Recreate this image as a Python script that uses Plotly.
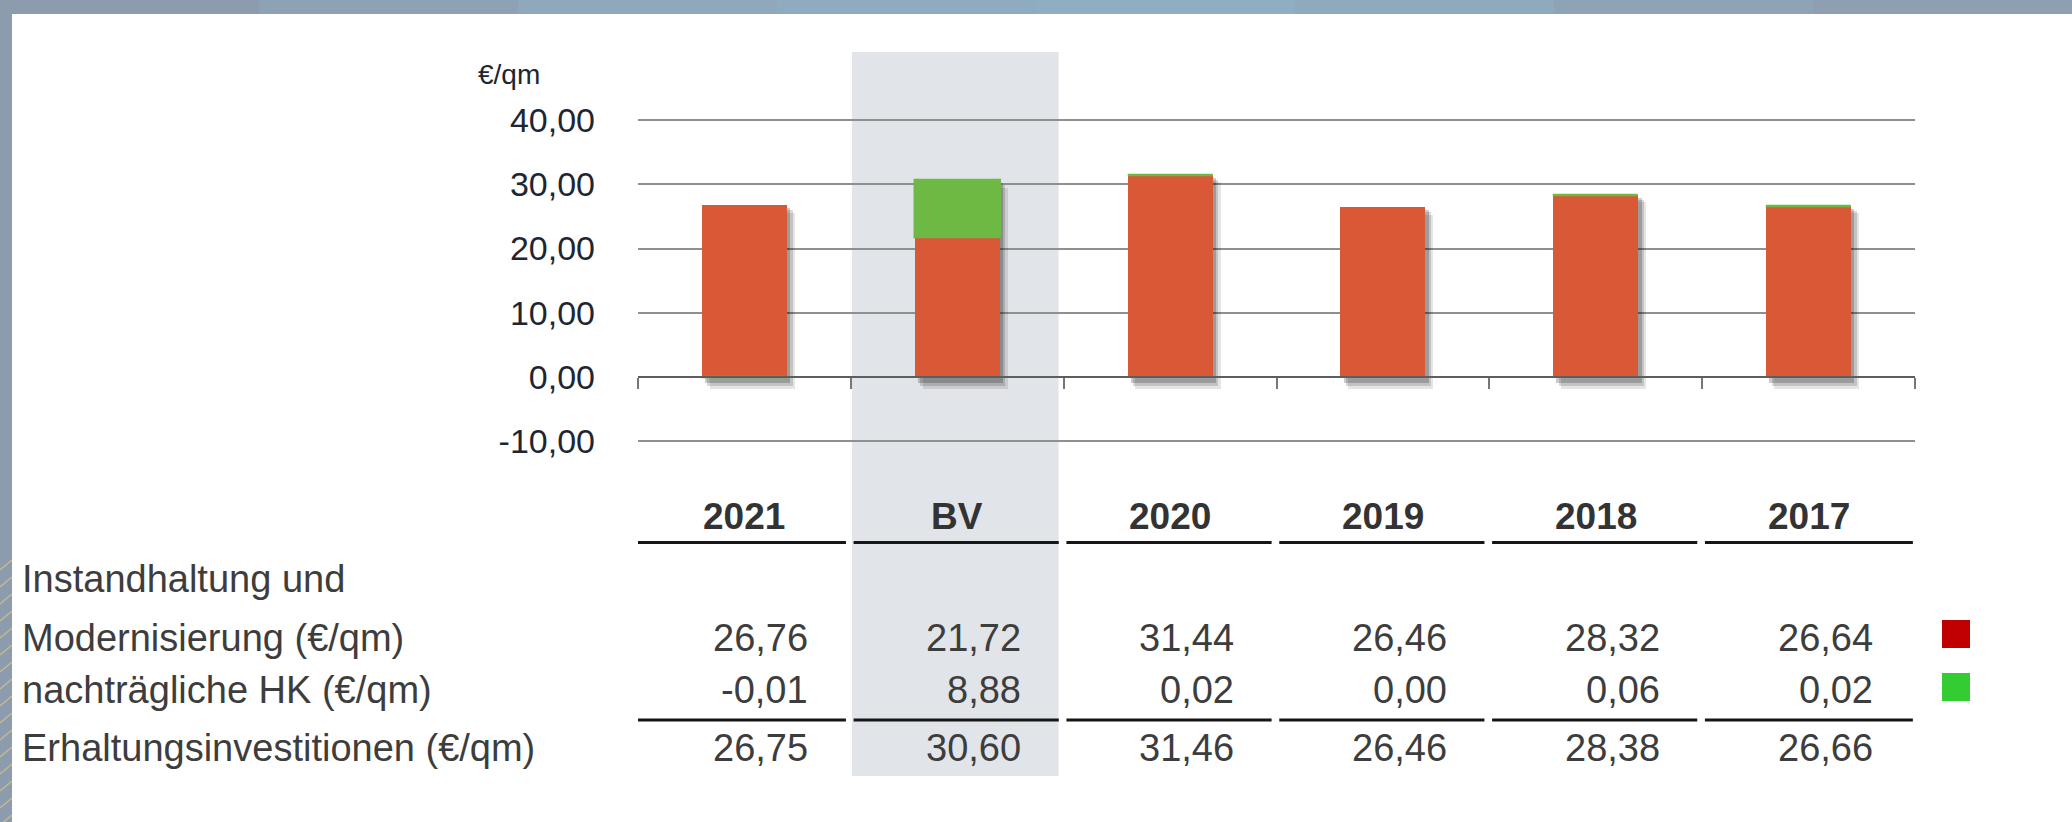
import plotly.graph_objects as go

# ---------------- data ----------------
categories = ["2021", "BV", "2020", "2019", "2018", "2017"]
instandhaltung = [26.76, 21.72, 31.44, 26.46, 28.32, 26.64]
nachtr_hk = [-0.01, 8.88, 0.02, 0.00, 0.06, 0.02]
erhaltung = [26.75, 30.60, 31.46, 26.46, 28.38, 26.66]
row_label_1a = "Instandhaltung und"
row_label_1b = "Modernisierung (€/qm)"
row_label_2 = "nachträgliche HK (€/qm)"
row_label_3 = "Erhaltungsinvestitionen (€/qm)"
y_ticks = [-10, 0, 10, 20, 30, 40]
unit_label = "€/qm"

# ---------------- layout constants ----------------
W, H = 2072, 822
FONT = "Liberation Sans, Arial, sans-serif"
RED = "#D95836"
GREEN = "#6DB944"
TXT = "#3d3d3d"


def py(pix):
    """pixel row -> paper y"""
    return 1 - pix / H


def px(pix):
    """pixel column -> paper x"""
    return pix / W


def de(v):
    return f"{v:.2f}".replace(".", ",")


# value axis: -10 at pixel row 441.4, 40 at pixel row 120
y_min, y_max = -10, 40
pad_u = 0.6
ppu = (441.4 - 120) / (y_max - y_min)
y_range = [y_min - pad_u, y_max + pad_u]
y_dom = [py(441.4 + pad_u * ppu), py(120 - pad_u * ppu)]
x_dom = [px(638), px(1915)]
zero_pos = py(441.4 - (0 - y_min) * ppu)

n = len(categories)
green_base = [a if b >= 0 else 0 for a, b in zip(instandhaltung, nachtr_hk)]
bar_top = [max(a, a + b) for a, b in zip(instandhaltung, nachtr_hk)]
green_line_w = [0 if b == 0 else 2.5 for b in nachtr_hk]

fig = go.Figure()

# soft drop shadows (layers)
fig.add_trace(go.Bar(
    x=categories, y=[t - 1.2 + 1.9 for t in bar_top], base=[-1.9] * n,
    width=0.4, offset=-0.2 + 0.037,
    marker=dict(color="rgba(0,0,0,0.10)", line=dict(width=0)),
    hoverinfo="skip", showlegend=False))
fig.add_trace(go.Bar(
    x=categories, y=[t - 0.8 + 1.4 for t in bar_top], base=[-1.4] * n,
    width=0.4, offset=-0.2 + 0.026,
    marker=dict(color="rgba(0,0,0,0.15)", line=dict(width=0)),
    hoverinfo="skip", showlegend=False))
fig.add_trace(go.Bar(
    x=categories, y=[t - 0.5 + 0.9 for t in bar_top], base=[-0.9] * n,
    width=0.4, offset=-0.2 + 0.015,
    marker=dict(color="rgba(0,0,0,0.20)", line=dict(width=0)),
    hoverinfo="skip", showlegend=False))

# stacked bars
fig.add_trace(go.Bar(
    x=categories, y=instandhaltung, base=[0] * n, width=0.4, offset=-0.2,
    marker=dict(color=RED, line=dict(width=0)), name=row_label_1b,
    showlegend=False))
fig.add_trace(go.Bar(
    x=categories, y=nachtr_hk, base=green_base, width=0.4, offset=-0.2,
    marker=dict(color=GREEN, line=dict(color=GREEN, width=green_line_w)),
    name=row_label_2, showlegend=False))

shapes = []
# grey highlight band behind "BV"
shapes.append(dict(type="rect", xref="x", yref="paper", x0=0.505, x1=1.476,
                   y0=py(776), y1=py(52), fillcolor="#E1E4E8",
                   line=dict(width=0), layer="below"))
# top frame (gradient approximation)
top_cols = ["#8c9bae", "#8ea2b5", "#8fa8bb", "#8fabc0", "#90aec3", "#8faabd",
            "#8ea4b6", "#8d9fb1"]
for k, c in enumerate(top_cols):
    shapes.append(dict(type="rect", xref="paper", yref="paper",
                       x0=k / len(top_cols), x1=min(1, (k + 1) / len(top_cols) + 0.001),
                       y0=py(14), y1=1, fillcolor=c, line=dict(width=0),
                       layer="above"))
# left frame
shapes.append(dict(type="rect", xref="paper", yref="paper", x0=0, x1=px(12),
                   y0=0, y1=1, fillcolor="#8c9bad", line=dict(width=0),
                   layer="above"))
for k in range(16):
    y0 = 560 + k * 17
    shapes.append(dict(type="line", xref="paper", yref="paper",
                       x0=0, x1=px(12), y0=py(y0 + 10), y1=py(y0),
                       line=dict(color="rgba(235,205,120,0.6)", width=1.5),
                       layer="above"))

# table rules
for i in range(n):
    x0 = -0.5 if i == 0 else i - 0.487
    x1 = i + 0.477 if i < n - 1 else n - 0.51
    for yy in (542.5, 720):
        shapes.append(dict(type="line", xref="x", yref="paper", x0=x0, x1=x1,
                           y0=py(yy), y1=py(yy),
                           line=dict(color="#161616", width=3)))
# legend squares
shapes.append(dict(type="rect", xref="paper", yref="paper", x0=px(1942),
                   x1=px(1970), y0=py(648), y1=py(620), fillcolor="#C00000",
                   line=dict(width=0)))
shapes.append(dict(type="rect", xref="paper", yref="paper", x0=px(1942),
                   x1=px(1970), y0=py(701), y1=py(673), fillcolor="#33CC33",
                   line=dict(width=0)))

annotations = []
annotations.append(dict(text=unit_label, xref="paper", yref="paper",
                        x=px(476), y=py(74), xanchor="left", yanchor="middle",
                        showarrow=False,
                        font=dict(family=FONT, size=28, color="#1d2633")))
for i, c in enumerate(categories):
    annotations.append(dict(text=f"<b>{c}</b>", xref="x", yref="paper", x=i,
                            y=py(516), xanchor="center", yanchor="middle",
                            showarrow=False,
                            font=dict(family=FONT, size=37, color="#333333")))
    for vals, yy in ((instandhaltung, 638), (nachtr_hk, 690),
                     (erhaltung, 748)):
        annotations.append(dict(text=de(vals[i]), xref="x", yref="paper",
                                x=i + 0.31, y=py(yy), xanchor="right",
                                yanchor="middle", showarrow=False,
                                font=dict(family=FONT, size=38, color=TXT)))
for txt, yy in ((row_label_1a, 579), (row_label_1b, 638), (row_label_2, 690),
                (row_label_3, 748)):
    annotations.append(dict(text=txt, xref="paper", yref="paper", x=px(20),
                            y=py(yy), xanchor="left", yanchor="middle",
                            showarrow=False,
                            font=dict(family=FONT, size=38, color=TXT)))

fig.update_layout(
    template="none",
    width=W, height=H, margin=dict(l=0, r=0, t=0, b=0, pad=0, autoexpand=False),
    paper_bgcolor="white", plot_bgcolor="rgba(0,0,0,0)",
    barmode="overlay", bargap=0, separators=",.",
    showlegend=False, font=dict(family=FONT),
    xaxis=dict(type="category", categoryorder="array",
               categoryarray=categories, range=[-0.5, n - 0.5],
               domain=x_dom, anchor="free", position=zero_pos,
               automargin=False,
               showline=True, linecolor="#5e5e5e", linewidth=2,
               ticks="outside", tickson="boundaries", ticklen=11,
               tickwidth=1.5, tickcolor="#777777", showticklabels=False,
               showgrid=False, zeroline=False, fixedrange=True),
    yaxis=dict(range=y_range, domain=y_dom, tickvals=y_ticks,
               ticktext=[de(v) for v in y_ticks], automargin=False,
               showgrid=True, gridcolor="#8f8f8f",
               gridwidth=2, zeroline=False, showline=False, ticks="",
               ticklabelstandoff=42,
               tickfont=dict(family=FONT, size=34, color="#1d2633"),
               fixedrange=True),
    shapes=shapes, annotations=annotations,
)

post = """
document.documentElement.style.overflow='hidden';
document.documentElement.style.background='white';
document.body.style.margin='0px';
document.body.style.overflow='hidden';
document.body.style.background='white';
var gd = document.getElementById('{plot_id}');
gd.style.position='fixed'; gd.style.left='0px'; gd.style.top='0px';
"""

fig.write_html("out.html", config={"displayModeBar": False}, post_script=post)
